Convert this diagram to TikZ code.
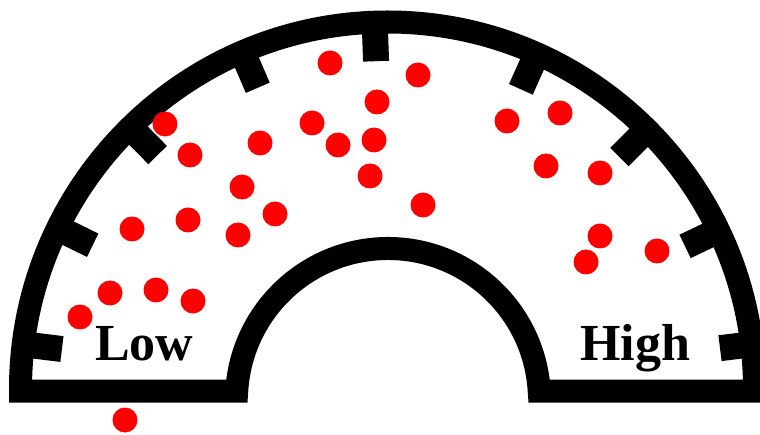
\documentclass[tikz,border=0pt]{standalone}
\usepackage{fontspec}
\setmainfont{Liberation Serif}
\usetikzlibrary{calc}
\definecolor{Ink}{HTML}{000000}
\definecolor{DotRed}{HTML}{FF0000}

\begin{document}
\begin{tikzpicture}[x=1pt,y=-1pt,
  wall/.style={draw=Ink,line width=23pt,miter limit=10},
  tab/.style={draw=Ink,line width=26pt},
  dot/.style={fill=DotRed},
  level/.style={font=\fontsize{52}{60}\selectfont\bfseries,text=Ink,inner sep=0pt}
]
\useasboundingbox (0,0) rectangle (760,435);
\coordinate (outer) at (387.5,389);
\coordinate (inner) at (388,400);
\draw[wall] (20.5,391) -- (20.5,389) arc[start angle=180,end angle=360,radius=367]
  -- (754.5,391) -- (539.2,391) arc[start angle=356.6,end angle=183.4,radius=151.5] -- cycle;
\foreach \a/\r in {187/328,206/328,225.5/328,246.7/328,268/328,294/328,315/328,334.4/330,353/335}
  \draw[tab] ($(outer)+(\a:360)$) -- ($(outer)+(\a:\r)$);
\foreach \x/\y in {330/63,418/75,377/102,165/124,312/123,260/143,190/155,338/145,374/140,
  370/176,242/187,507/121,560/113,546/166,600/173,423/205,275/214,188/220,132/229,238/235,
  600/236,657/251,586/262,110/293,156/290,193/301,80/317,125/420}
  \fill[dot] (\x,\y) circle[radius=12.5];
\node[level,anchor=base west] (low) at (95,360) {Low};
\node[level,anchor=base west] (high) at (580,360) {High};
\end{tikzpicture}
\end{document}
